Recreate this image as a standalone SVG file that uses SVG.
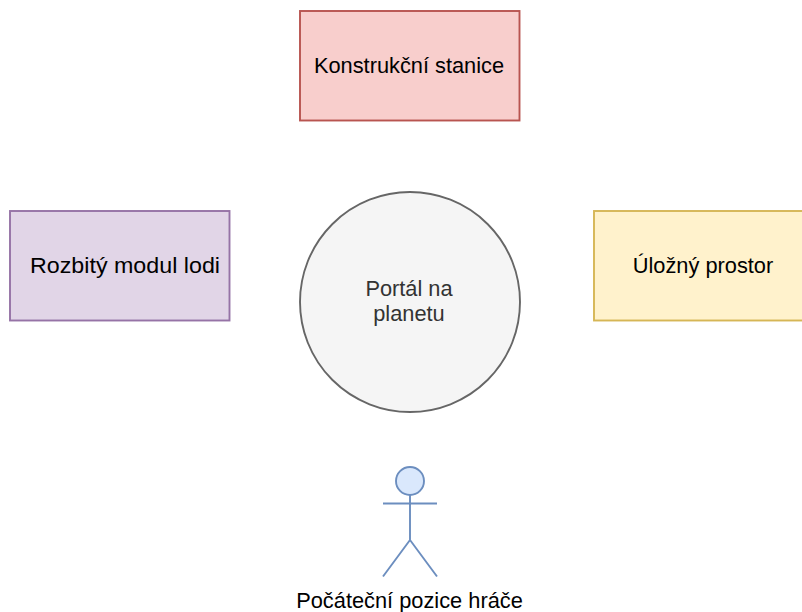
<svg xmlns="http://www.w3.org/2000/svg" width="802" height="612" viewBox="0 0 802 612">
<style>
text{font-family:"Liberation Sans",Arial,sans-serif;font-size:21.8px;fill:#000;text-anchor:middle}
.b{stroke-width:1.9}
</style>
<rect width="802" height="612" fill="#fff"/>
<g id="konstrukcni-stanice"><rect class="b" x="300" y="11" width="219.500" height="109.500" fill="#f8cecc" stroke="#b85450"/><text x="409" y="73">Konstrukční stanice</text></g>
<g id="rozbity-modul"><rect class="b" x="10" y="211" width="219.500" height="109.500" fill="#e1d5e7" stroke="#9673a6"/><text x="125" y="273" textLength="190" lengthAdjust="spacingAndGlyphs">Rozbitý modul lodi</text></g>
<g id="portal"><circle class="b" cx="410" cy="302" r="110" fill="#f5f5f5" stroke="#666666"/><text x="409" y="296" style="fill:#333">Portál na</text><text x="409" y="321" style="fill:#333">planetu</text></g>
<g id="ulozny-prostor"><rect class="b" x="594" y="211" width="220" height="109.500" fill="#fff2cc" stroke="#d6b656"/><text x="703" y="273">Úložný prostor</text></g>
<g id="hrac"><circle class="b" cx="410" cy="481" r="14" fill="#dae8fc" stroke="#6c8ebf"/><path class="b" d="M410 495V540M383 503.500H437M410 540L383 576.500M410 540L437 576.500" fill="none" stroke="#6c8ebf"/><text x="409.500" y="608">Počáteční pozice hráče</text></g>
<g id="connectors"/>
</svg>
